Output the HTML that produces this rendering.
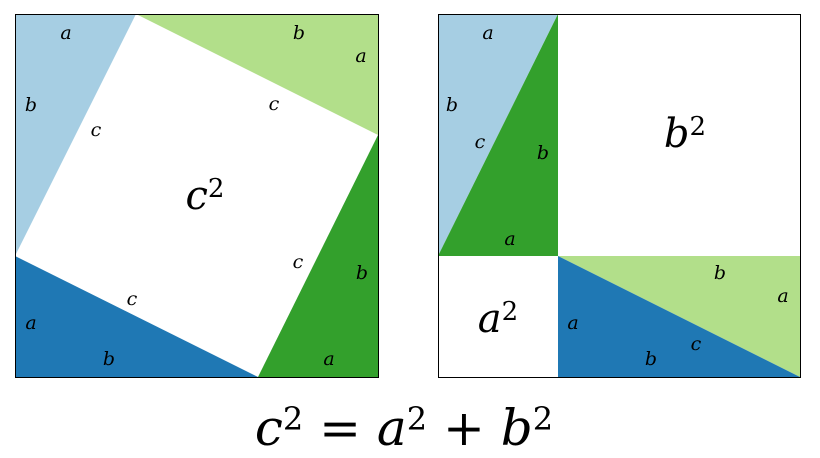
<!DOCTYPE html>
<html><head><style>body{margin:0;background:#fff}svg{display:block}</style></head><body>
<svg width="820" height="458" viewBox="0 0 820 458" xmlns="http://www.w3.org/2000/svg" font-family="DejaVu Serif, Liberation Serif, serif">
<rect x="0" y="0" width="820" height="458" fill="#fff"/>
<polygon points="15,14 136,14 15,256" fill="#a6cee3"/>
<polygon points="136,14 378,14 378,135" fill="#b2df8a"/>
<polygon points="378,135 378,377 258,377" fill="#33a02c"/>
<polygon points="15,256 15,377 258,377" fill="#1f78b4"/>
<rect x="15.5" y="14.5" width="363" height="363" fill="none" stroke="#000" stroke-width="1"/>
<polygon points="438,14 558,14 438,256" fill="#a6cee3"/>
<polygon points="558,14 558,256 438,256" fill="#33a02c"/>
<polygon points="558,256 800,256 800,377" fill="#b2df8a"/>
<polygon points="558,256 558,377 800,377" fill="#1f78b4"/>
<rect x="438.5" y="14.5" width="362" height="363" fill="none" stroke="#000" stroke-width="1"/>
<g font-size="19" font-style="italic" text-anchor="middle" fill="#000">
<text x="66" y="39">a</text><text x="299" y="39">b</text><text x="361" y="62">a</text>
<text x="31" y="111">b</text><text x="96" y="136">c</text><text x="274" y="110">c</text>
<text x="298" y="268">c</text><text x="362" y="279">b</text><text x="132" y="305">c</text>
<text x="31" y="329">a</text><text x="109" y="365">b</text><text x="329" y="365">a</text>
<text x="488" y="39">a</text><text x="452" y="111">b</text><text x="480" y="148">c</text>
<text x="543" y="159">b</text><text x="510" y="245">a</text><text x="720" y="279">b</text>
<text x="783" y="302">a</text><text x="573" y="329">a</text><text x="696" y="350">c</text>
<text x="651" y="365">b</text>
</g>
<g font-size="40" text-anchor="middle">
<text x="205" y="209"><tspan font-style="italic">c</tspan><tspan font-size="26" dy="-12">2</tspan></text>
<text x="685" y="147"><tspan font-style="italic">b</tspan><tspan font-size="26" dy="-12">2</tspan></text>
<text x="498" y="332"><tspan font-style="italic">a</tspan><tspan font-size="26" dy="-12">2</tspan></text>
</g>
<text x="404" y="445" font-size="50" text-anchor="middle"><tspan font-style="italic">c</tspan><tspan font-size="32" dy="-15">2</tspan><tspan dy="15"> = </tspan><tspan font-style="italic">a</tspan><tspan font-size="32" dy="-15">2</tspan><tspan dy="15"> + </tspan><tspan font-style="italic">b</tspan><tspan font-size="32" dy="-15">2</tspan></text>
</svg>
</body></html>
